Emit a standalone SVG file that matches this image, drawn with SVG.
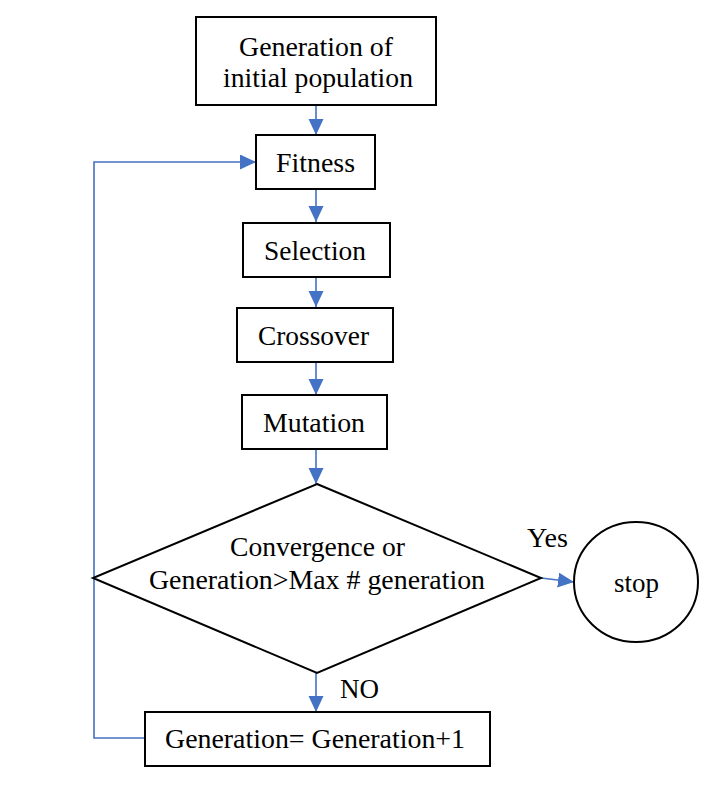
<svg xmlns="http://www.w3.org/2000/svg" width="712" height="791" viewBox="0 0 712 791">
<style>
.box{fill:#fff;stroke:#000;stroke-width:2}
.t{font-family:"Liberation Serif","Times New Roman",serif;font-size:27px;fill:#000}
.c{fill:none;stroke:#4472C4;stroke-width:1.6}
</style>
<defs>
<marker id="ah" markerUnits="userSpaceOnUse" markerWidth="17" markerHeight="16" refX="16" refY="7.5" orient="auto">
<path d="M0,0 L16,7.5 L0,15 Z" fill="#4472C4"/>
</marker>
</defs>
<rect width="712" height="791" fill="#fff"/>
<g id="connectors">
<line class="c" x1="316" y1="105" x2="316" y2="135" marker-end="url(#ah)"/>
<line class="c" x1="316" y1="189" x2="316" y2="222" marker-end="url(#ah)"/>
<line class="c" x1="316" y1="277" x2="316" y2="307" marker-end="url(#ah)"/>
<line class="c" x1="316" y1="362" x2="316" y2="395" marker-end="url(#ah)"/>
<line class="c" x1="316" y1="449" x2="316" y2="484" marker-end="url(#ah)"/>
<line class="c" x1="316" y1="673" x2="316" y2="712" marker-end="url(#ah)"/>
<line class="c" x1="541" y1="578" x2="574" y2="582" marker-end="url(#ah)"/>
<polyline class="c" points="145,738 94,738 94,162 256,162" marker-end="url(#ah)"/>
<text class="t" x="527" y="547" textLength="41" lengthAdjust="spacingAndGlyphs">Yes</text>
<text class="t" x="340" y="698" textLength="39" lengthAdjust="spacingAndGlyphs">NO</text>
</g>
<g id="init">
<rect class="box" x="196" y="17" width="240" height="88"/>
<text class="t" x="239" y="56" textLength="154" lengthAdjust="spacingAndGlyphs">Generation of</text>
<text class="t" x="223" y="87" textLength="190" lengthAdjust="spacingAndGlyphs">initial population</text>
</g>
<g id="fitness">
<rect class="box" x="256" y="135" width="119" height="54"/>
<text class="t" x="276" y="172" textLength="79" lengthAdjust="spacingAndGlyphs">Fitness</text>
</g>
<g id="selection">
<rect class="box" x="243" y="223" width="147" height="54"/>
<text class="t" x="264" y="260" textLength="102" lengthAdjust="spacingAndGlyphs">Selection</text>
</g>
<g id="crossover">
<rect class="box" x="237" y="308" width="156" height="54"/>
<text class="t" x="258" y="345" textLength="111" lengthAdjust="spacingAndGlyphs">Crossover</text>
</g>
<g id="mutation">
<rect class="box" x="242" y="395" width="145" height="54"/>
<text class="t" x="263" y="432" textLength="102" lengthAdjust="spacingAndGlyphs">Mutation</text>
</g>
<g id="decision">
<polygon class="box" points="317,484 541,578 317,673 93,578"/>
<text class="t" x="230" y="556" textLength="175" lengthAdjust="spacingAndGlyphs">Convergence or</text>
<text class="t" x="149" y="589" textLength="336" lengthAdjust="spacingAndGlyphs">Generation&gt;Max # generation</text>
</g>
<g id="stop">
<ellipse class="box" cx="636" cy="582" rx="62" ry="60"/>
<text class="t" x="614" y="592" textLength="45" lengthAdjust="spacingAndGlyphs">stop</text>
</g>
<g id="increment">
<rect class="box" x="145" y="712" width="345" height="54"/>
<text class="t" x="165" y="748" textLength="300" lengthAdjust="spacingAndGlyphs">Generation= Generation+1</text>
</g>
</svg>
